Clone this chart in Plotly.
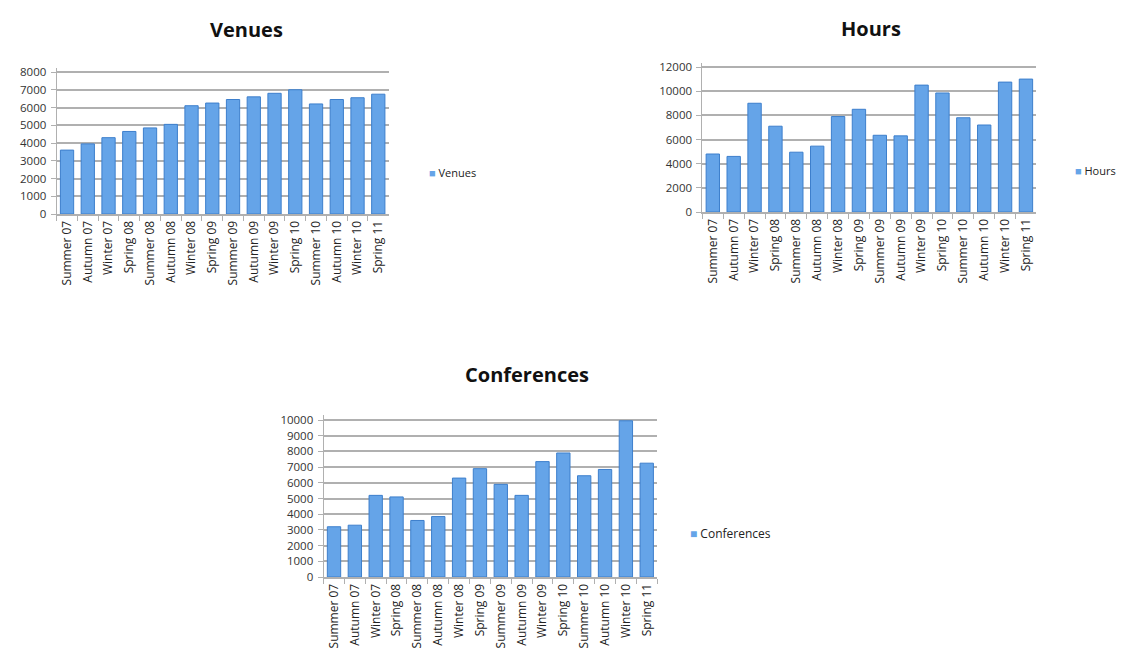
import plotly.graph_objects as go

seasons = ["Summer 07", "Autumn 07", "Winter 07", "Spring 08", "Summer 08", "Autumn 08",
           "Winter 08", "Spring 09", "Summer 09", "Autumn 09", "Winter 09", "Spring 10",
           "Summer 10", "Autumn 10", "Winter 10", "Spring 11"]

venues = [3600, 3950, 4300, 4650, 4850, 5050, 6100, 6250, 6450, 6600, 6800, 7000,
          6200, 6450, 6550, 6750]
hours = [4800, 4600, 9000, 7100, 4950, 5450, 7900, 8500, 6350, 6300, 10500, 9850,
         7800, 7200, 10750, 11000]
conferences = [3200, 3300, 5200, 5100, 3600, 3850, 6300, 6900, 5900, 5200, 7350, 7900,
               6450, 6850, 9950, 7250]

BAR = "#65a4e8"
EDGE = "#3d7fcc"
GRID = "#b0b0b0"
FONT = "Open Sans, Liberation Sans, sans-serif"
HEADROOM = 1.03  # a little space above the top gridline so it stays visible

fig = go.Figure()

panels = [
    ("Venues", venues, "x", "y"),
    ("Hours", hours, "x2", "y2"),
    ("Conferences", conferences, "x3", "y3"),
]
for name, vals, xa, ya in panels:
    fig.add_trace(go.Bar(
        x=seasons, y=vals, name=name, xaxis=xa, yaxis=ya,
        marker=dict(color=BAR, line=dict(color=EDGE, width=1)),
        showlegend=False,
    ))

axis_common = dict(
    zeroline=False, automargin=False, ticks="outside", ticklen=5,
    tickcolor=GRID, tickwidth=1, showline=True, linecolor=GRID,
)
xcommon = dict(axis_common, tickangle=-90, showgrid=False, linewidth=2,
               tickson="boundaries", tickfont=dict(size=12, color="#222", family=FONT))
ycommon = dict(axis_common, showgrid=True, gridcolor=GRID, gridwidth=1.5, linewidth=1,
               tickformat="d", ticklabelstandoff=2,
               tickfont=dict(size=11.5, color="#333", family=FONT))


def y_domain(bottom_px, top_px):
    # domain whose 0 and top tick land on the given pixel rows, plus headroom
    b = 1 - bottom_px / 655
    t = 1 - top_px / 655
    return [b, b + (t - b) * HEADROOM]


def legend_note(name, x, y, size):
    # small colored square followed by the series name
    return dict(
        text=f"<span style='color:{BAR}'>■</span> {name}",
        x=x / 1122, y=1 - y / 655, xref="paper", yref="paper",
        xanchor="left", yanchor="middle", showarrow=False,
        font=dict(size=size, family=FONT, color="#222"),
    )


def title_note(name, x, y):
    return dict(
        text=f"<b>{name}</b>", x=x / 1122, y=1 - y / 655, xref="paper", yref="paper",
        xanchor="center", yanchor="middle", showarrow=False,
        font=dict(size=20, family=FONT, color="#111"),
    )


fig.update_layout(
    width=1122, height=655,
    margin=dict(l=0, r=0, t=0, b=0, autoexpand=False),
    paper_bgcolor="white", plot_bgcolor="white",
    font=dict(family=FONT, color="#222"),
    bargap=0.36,
    showlegend=False,
    xaxis=dict(xcommon, domain=[0.0505, 0.3464], anchor="y"),
    yaxis=dict(ycommon, domain=y_domain(214, 72), range=[0, 8000 * HEADROOM],
               dtick=1000, anchor="x"),
    xaxis2=dict(xcommon, domain=[0.626, 0.9237], anchor="y2"),
    yaxis2=dict(ycommon, domain=y_domain(212, 67), range=[0, 12000 * HEADROOM],
                dtick=2000, anchor="x2"),
    xaxis3=dict(xcommon, domain=[0.2884, 0.5857], anchor="y3"),
    yaxis3=dict(ycommon, domain=y_domain(577, 420), range=[0, 10000 * HEADROOM],
                dtick=1000, anchor="x3"),
    annotations=[
        title_note("Venues", 246, 30),
        title_note("Hours", 871, 28),
        title_note("Conferences", 527, 375),
        legend_note("Venues", 427, 173, 11),
        legend_note("Hours", 1073, 170, 11),
        legend_note("Conferences", 688, 533, 12),
    ],
)

fig.write_html("out.html")
